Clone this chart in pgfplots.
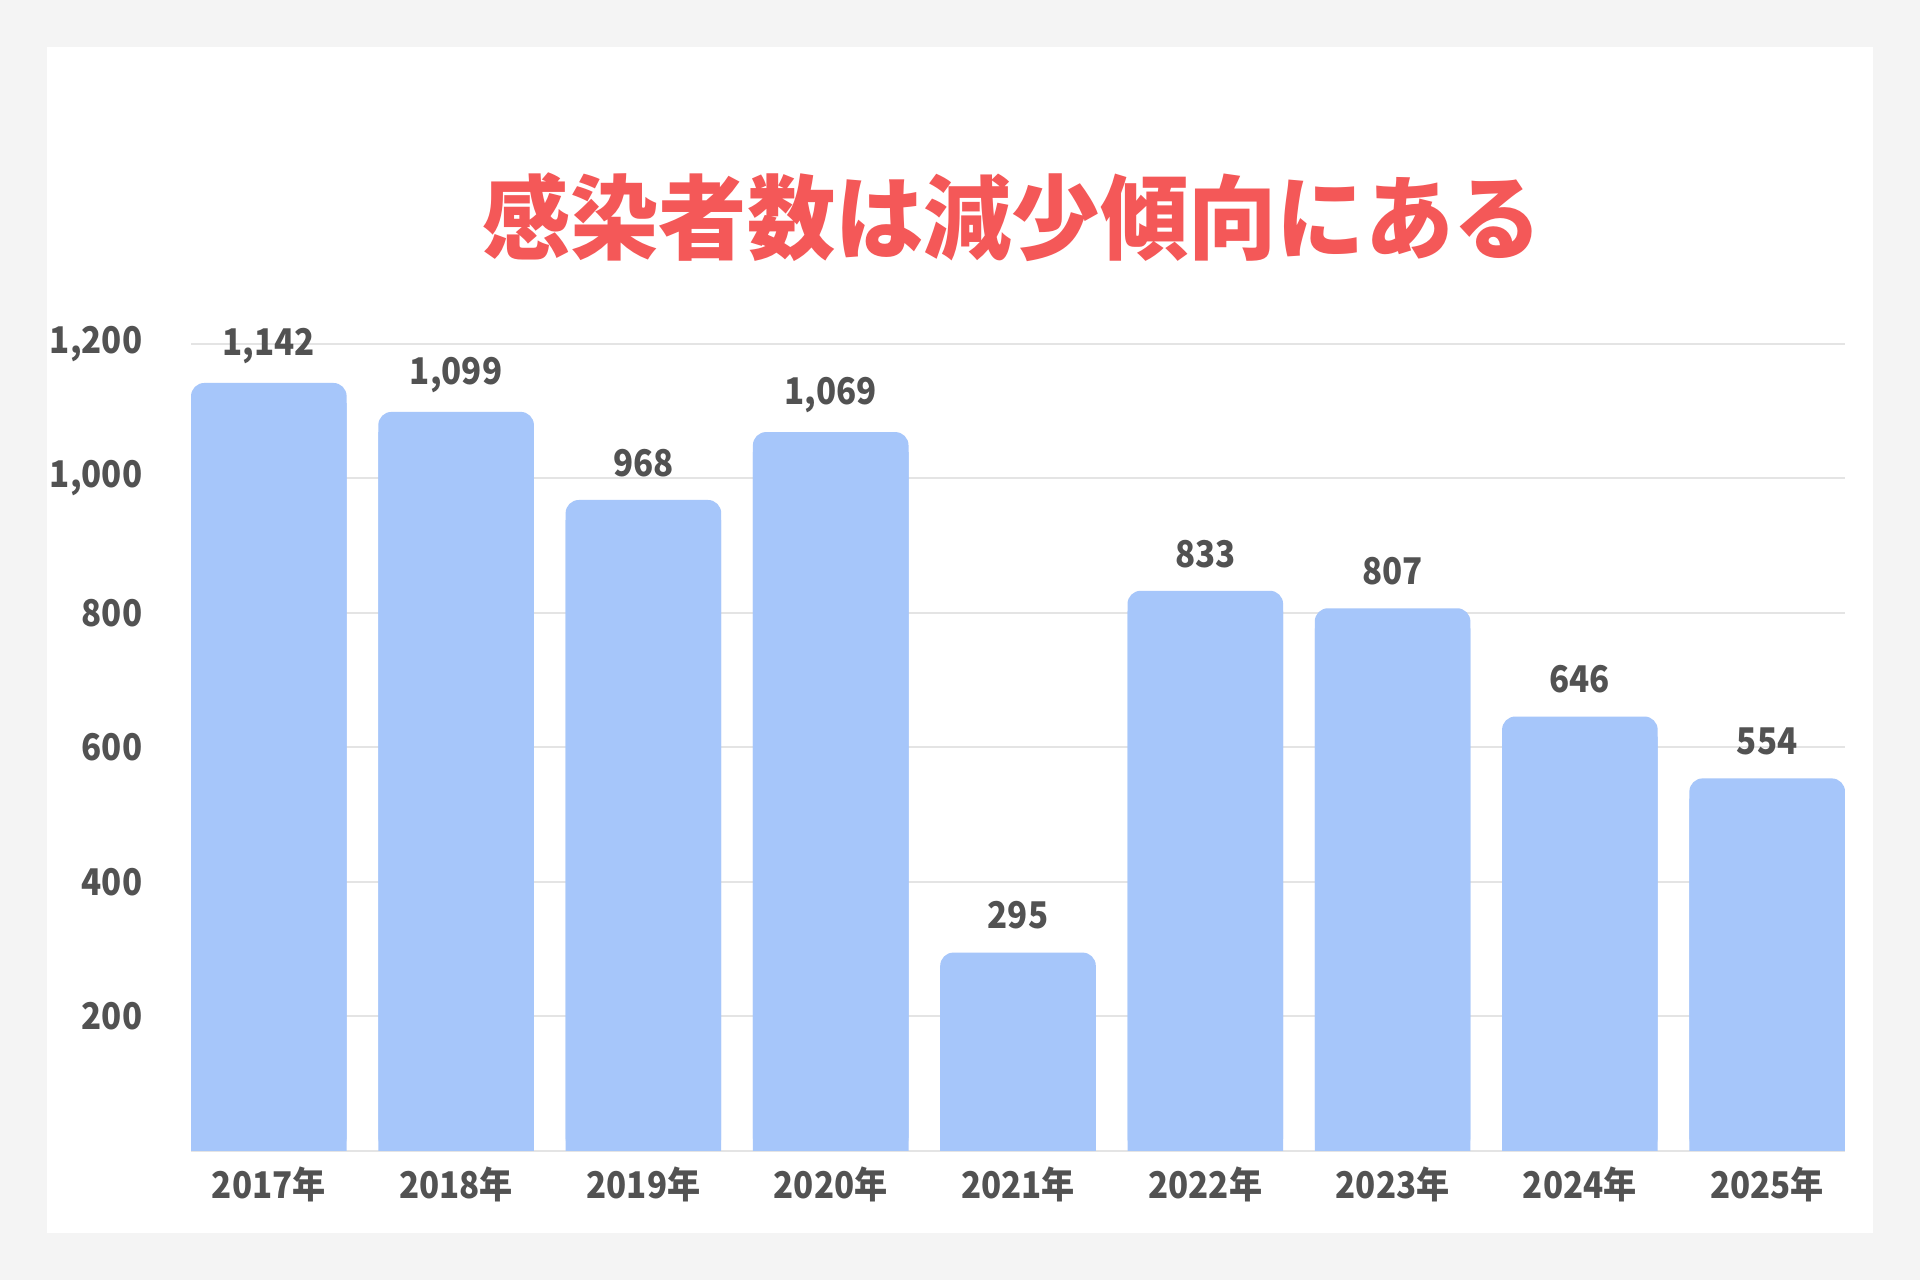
\documentclass[border=0pt]{standalone}
\usepackage{pgfplots}
\pgfplotsset{compat=1.18}
\usepackage{pgfplotstable}
\usepackage{fontspec}
\setmainfont{Noto Sans CJK JP}
\newfontfamily\lblfont{Noto Sans CJK JP}[FakeStretch=0.9]
\definecolor{bg}{HTML}{F4F4F4}
\definecolor{barblue}{HTML}{A6C6FA}
\definecolor{titlered}{HTML}{F45858}
\definecolor{txt}{HTML}{525252}
\definecolor{gridc}{HTML}{E4E4E4}

% infected per year (0 = 2017)
\pgfplotstableread{
x v
0 1142
1 1099
2 968
3 1069
4 295
5 833
6 807
7 646
8 554
}\infected

\begin{document}
\begin{tikzpicture}
\fill[bg] (0,0) rectangle (480pt,320pt);
\fill[white] (11.75pt,11.75pt) rectangle (468.25pt,308.25pt);
\node[text=titlered, font=\fontsize{23}{23}\selectfont\bfseries, inner sep=0pt]
  at (253pt,265.6pt) {\scalebox{0.96}[1]{感染者数は減少傾向にある}};
\begin{axis}[
  at={(47.75pt,32.25pt)}, anchor=south west,
  scale only axis, width=413.5pt, height=201.75pt,
  xmin=-0.4156, xmax=8.4156, ymin=0, ymax=1200,
  ybar, bar width=38.9pt, bar shift=0pt,
  clip=false,
  axis line style={draw=none},
  major tick length=0pt,
  ymajorgrids, grid style={gridc, line width=0.5pt},
  xtick=data,
  xticklabels={2017年,2018年,2019年,2020年,2021年,2022年,2023年,2024年,2025年},
  ytick={0,200,...,1200},
  yticklabels={,200,400,600,800,{1,000},{1,200}},
  tick label style={font=\lblfont\fontsize{9.2}{11}\selectfont\bfseries, text=txt},
  xticklabel style={anchor=center, yshift=-8.25pt},
  yticklabel style={anchor=east, inner sep=0pt, xshift=-12pt},
  /pgf/number format/.cd, 1000 sep={,}, assume math mode=true,
]
% sharp lower part so only the top corners look rounded
\addplot[fill=barblue, draw=none] table[x=x, y expr=\thisrow{v}-30] {\infected};
\addplot[fill=barblue, draw=none, rounded corners=3.3pt,
  nodes near coords,
  every node near coord/.append style={anchor=center, yshift=9.25pt,
    font=\lblfont\fontsize{9.2}{11}\selectfont\bfseries, text=txt}]
  table[x=x, y=v] {\infected};
\end{axis}
\end{tikzpicture}
\end{document}
